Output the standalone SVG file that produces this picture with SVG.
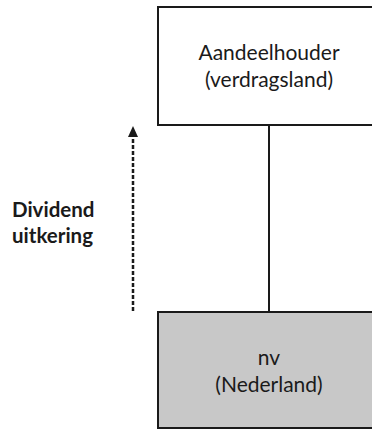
<svg xmlns="http://www.w3.org/2000/svg" width="372" height="431" viewBox="0 0 372 431">
<style>
.box{stroke:#1a1a1a;stroke-width:2}
.t{font-family:Lato,"Open Sans",sans-serif;font-size:21px;fill:#1a1a1a;text-anchor:middle}
.lbl{font-family:Lato,"Open Sans",sans-serif;font-size:20.5px;font-weight:bold;fill:#1a1a1a}
</style>
<g id="connectors">
<line x1="269" y1="125" x2="269" y2="312" stroke="#1a1a1a" stroke-width="2"/>
<line x1="133" y1="311" x2="133" y2="135" stroke="#1a1a1a" stroke-width="2.5" stroke-dasharray="4,2"/>
<polygon points="133,126 138,137 128,137" fill="#1a1a1a"/>
</g>
<g id="aandeelhouder">
<rect class="box" x="158" y="7" width="220" height="118" fill="#ffffff"/>
<text class="t" x="269" y="60">Aandeelhouder</text>
<text class="t" x="269" y="87">(verdragsland)</text>
</g>
<g id="nv">
<rect class="box" x="158" y="312" width="220" height="116" fill="#c8c8c8"/>
<text class="t" x="269" y="365">nv</text>
<text class="t" x="269" y="392">(Nederland)</text>
</g>
<g id="label">
<text class="lbl" x="12" y="217">Dividend</text>
<text class="lbl" x="12" y="243">uitkering</text>
</g>
</svg>
